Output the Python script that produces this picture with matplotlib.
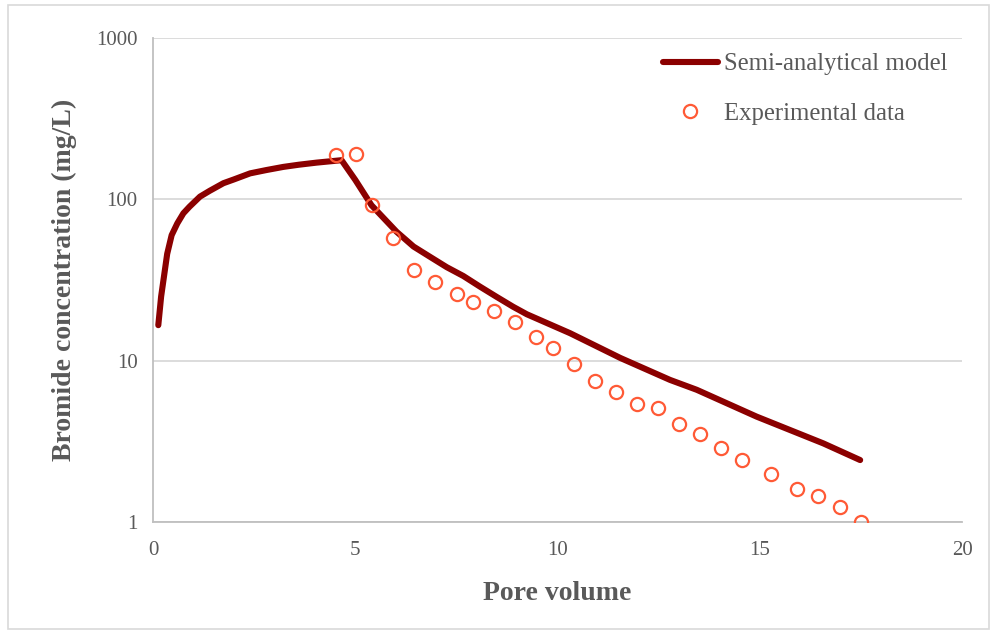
import matplotlib
matplotlib.use("Agg")
import matplotlib.pyplot as plt
from matplotlib.patches import Rectangle

# Semi-analytical model curve
model_pv = [0.13, 0.20, 0.35, 0.46, 0.60, 0.75, 0.90, 1.16, 1.40, 1.74, 2.00,
            2.40, 2.80, 3.22, 3.60, 4.04, 4.66, 5.00, 5.40, 6.02, 6.44, 6.85, 7.26,
            7.67, 8.08, 8.49, 8.90, 9.24, 10.31, 11.55, 12.78, 13.44, 14.92,
            16.57, 17.48]
model_conc = [16.6, 25, 46, 60, 71, 82, 90, 104, 113, 126, 133,
              145, 152, 159, 164, 169, 175, 132, 92, 63, 51, 44, 38,
              33.5, 28.8, 24.9, 21.6, 19.4, 14.8, 10.4, 7.6, 6.6, 4.5,
              3.07, 2.42]

# Measured bromide concentrations
exp_pv = [4.52, 5.02, 5.41, 5.93, 6.45, 6.97, 7.52, 7.91, 8.43, 8.95, 9.47, 9.89,
          10.41, 10.93, 11.45, 11.97, 12.48, 13.0, 13.52, 14.04, 14.56, 15.28,
          15.92, 16.44, 16.98, 17.50]
exp_conc = [188, 191, 92, 57.6, 36.5, 30.7, 25.9, 23.1, 20.3, 17.4, 14.0, 12.0,
            9.5, 7.5, 6.4, 5.4, 5.1, 4.05, 3.5, 2.88, 2.42, 1.99,
            1.60, 1.45, 1.24, 1.0]

x_ticks = [0, 5, 10, 15, 20]
y_ticks = [1, 10, 100, 1000]
y_tick_labels = ["1", "10", "100", "1000"]

plt.rcParams['font.family'] = ['Liberation Serif', 'DejaVu Serif']
text_gray = '#595959'

fig = plt.figure(figsize=(9.97, 6.35), dpi=100)
ax = fig.add_axes([0.1535, 0.178, 0.8115, 0.762])

ax.plot(model_pv, model_conc, color='#8b0000', lw=4.4, solid_capstyle='round',
        solid_joinstyle='round', label='Semi-analytical model', zorder=3)
ax.plot(exp_pv, exp_conc, ls='none', marker='o', ms=9.5, mfc='none',
        mec='#ff5a36', mew=1.6, label='Experimental data', zorder=4)

ax.set_yscale('log')
ax.set_xlim(0, 20)
ax.set_ylim(1, 1000)
ax.set_xticks(x_ticks)
ax.set_yticks(y_ticks)
ax.set_yticklabels(y_tick_labels)
ax.minorticks_off()
ax.tick_params(length=0, labelsize=15, labelcolor=text_gray)
ax.tick_params(axis='x', pad=14)
ax.tick_params(axis='y', pad=11)

ax.grid(axis='y', color='#d9d9d9', lw=1.3)
ax.set_axisbelow(True)
for s in ['top', 'right']:
    ax.spines[s].set_visible(False)
for s in ['left', 'bottom']:
    ax.spines[s].set_color('#bfbfbf')
    ax.spines[s].set_linewidth(1.3)

ax.set_xlabel('Pore volume', fontsize=20, fontweight='bold', color=text_gray, labelpad=15)
ax.set_ylabel('Bromide concentration (mg/L)', fontsize=20, fontweight='bold',
              color=text_gray, labelpad=14)

leg = ax.legend(loc='upper right', bbox_to_anchor=(1.0, 1.0), frameon=False,
                fontsize=17.8, handlelength=2.2, handletextpad=0.25, labelspacing=1.1,
                borderaxespad=0.2)
for t in leg.get_texts():
    t.set_color(text_gray)

fig.patches.append(Rectangle((0.008, 0.01), 0.984, 0.982, transform=fig.transFigure,
                             fill=False, edgecolor='#d9d9d9', lw=1.2))

fig.savefig('out.png', dpi=100)
